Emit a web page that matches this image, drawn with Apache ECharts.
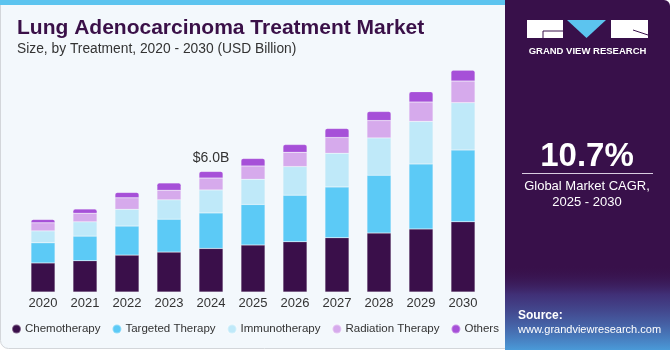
<!DOCTYPE html>
<html>
<head>
<meta charset="utf-8">
<script src="https://cdn.jsdelivr.net/npm/echarts@6/dist/echarts.min.js"></script>
<style>
html,body{margin:0;padding:0;background:#fff;}
#c{width:670px;height:350px;}
</style>
</head>
<body>
<div id="c"></div>
<script>
var years = ['2020','2021','2022','2023','2024','2025','2026','2027','2028','2029','2030'];
var chemotherapy = [1.44,1.55,1.83,1.98,2.16,2.33,2.49,2.69,2.92,3.13,3.48];
var targetedTherapy = [1.00,1.22,1.44,1.63,1.76,2.01,2.31,2.52,2.87,3.22,3.56];
var immunotherapy = [0.59,0.71,0.83,0.96,1.14,1.25,1.42,1.67,1.85,2.11,2.35];
var radiationTherapy = [0.40,0.43,0.57,0.48,0.59,0.66,0.71,0.78,0.86,0.96,1.07];
var others = [0.17,0.20,0.27,0.36,0.33,0.37,0.38,0.45,0.45,0.51,0.54];
var labelYear = '2024';
var labelText = '$6.0B';

var names = ['Chemotherapy','Targeted Therapy','Immunotherapy','Radiation Therapy','Others'];
var colors = ['#3a0f4a','#5ccaf6','#bfe9f9','#d6aaec','#a650d8'];
var dataSets = [chemotherapy, targetedTherapy, immunotherapy, radiationTherapy, others];

var chart = echarts.init(document.getElementById('c'), null, {renderer:'canvas'});
var series = dataSets.map(function(d, i){
  var s = {
    name: names[i], type:'bar', stack:'t', barWidth:24, data:d,
    itemStyle:{color:colors[i], borderColor:'rgba(255,255,255,0.35)', borderWidth:0.5},
    emphasis:{disabled:true}, z:3
  };
  if (i === dataSets.length-1) {
    s.itemStyle.borderRadius = [2,2,0,0];
    s.label = {
      show:true, position:'top', distance:6, fontSize:14, color:'#333',
      fontFamily:'Liberation Sans',
      formatter:function(p){ return p.name === labelYear ? labelText : ''; }
    };
  }
  return s;
});

var option = {
  animation:false,
  backgroundColor:'#ffffff',
  grid:{left:22, right:186, top:50, bottom:58},
  xAxis:{type:'category', data:years,
    axisLine:{show:false}, axisTick:{show:false},
    axisLabel:{color:'#333', fontSize:13, fontFamily:'Liberation Sans', margin:5}},
  yAxis:{type:'value', min:0, max:12, show:false, splitLine:{show:false}},
  legend:{data:names, left:6, top:318, icon:'circle', itemWidth:9, itemHeight:9, itemGap:11,
    textStyle:{color:'#333', fontSize:11.5, fontFamily:'Liberation Sans', padding:[0,0,0,-1]}},
  graphic:[
    {type:'rect', z:-10, shape:{x:0.5,y:0.5,width:520,height:348,r:[0,0,0,8]},
      style:{fill:'#f3f8fc', stroke:'#d3d6da', lineWidth:1}},
    {type:'rect', z:-9, shape:{x:0,y:0,width:505,height:5}, style:{fill:'#5cc4ef'}},
    {type:'rect', z:-8, shape:{x:505,y:0,width:165,height:350,r:[0,6,0,0]}, style:{fill:'#38104a'}},
    {type:'rect', z:-7, shape:{x:505,y:265,width:165,height:85},
      style:{fill:new echarts.graphic.LinearGradient(0,0,0,1,[
        {offset:0,color:'rgba(56,16,74,0)'},{offset:0.35,color:'rgba(70,70,150,0.6)'},{offset:1,color:'#4a9ad8'}])}},
    // logo
    {type:'rect', shape:{x:527,y:20,width:36,height:18}, style:{fill:'#fff'}},
    {type:'polygon', shape:{points:[[567,20],[606,20],[586.5,38]]}, style:{fill:'#5cc4ef'}},
    {type:'rect', shape:{x:611,y:20,width:37,height:18}, style:{fill:'#fff'}},
    {type:'line', shape:{x1:543,y1:31,x2:563,y2:31}, style:{stroke:'#38104a',lineWidth:1}},
    {type:'line', shape:{x1:543,y1:31,x2:543,y2:38}, style:{stroke:'#38104a',lineWidth:1}},
    {type:'line', shape:{x1:633,y1:30,x2:648,y2:35}, style:{stroke:'#38104a',lineWidth:1}},
    {type:'text', style:{x:587.5,y:51,text:'GRAND VIEW RESEARCH',fill:'#fff',font:'bold 9.5px "Liberation Sans"',
      textAlign:'center',textVerticalAlign:'middle'}},
    // CAGR
    {type:'text', style:{x:587,y:157,text:'10.7%',fill:'#fff',font:'bold 33px "Liberation Sans"',
      textAlign:'center',textVerticalAlign:'middle'}},
    {type:'line', shape:{x1:522,y1:173.5,x2:653,y2:173.5}, style:{stroke:'#d8cde0',lineWidth:1}},
    {type:'text', style:{x:587,y:186,text:'Global Market CAGR,',fill:'#fff',font:'13px "Liberation Sans"',
      textAlign:'center',textVerticalAlign:'middle'}},
    {type:'text', style:{x:587,y:202,text:'2025 - 2030',fill:'#fff',font:'13px "Liberation Sans"',
      textAlign:'center',textVerticalAlign:'middle'}},
    {type:'text', style:{x:518,y:316,text:'Source:',fill:'#fff',font:'bold 12px "Liberation Sans"',
      textVerticalAlign:'middle'}},
    {type:'text', style:{x:518,y:330,text:'www.grandviewresearch.com',fill:'#fff',font:'11px "Liberation Sans"',
      textVerticalAlign:'middle'}},
    // titles
    {type:'text', style:{x:17,y:28,text:'Lung Adenocarcinoma Treatment Market',fill:'#3a1048',
      font:'bold 21px "Liberation Sans"', textVerticalAlign:'middle'}},
    {type:'text', style:{x:17,y:49,text:'Size, by Treatment, 2020 - 2030 (USD Billion)',fill:'#333',
      font:'13.8px "Liberation Sans"', textVerticalAlign:'middle'}}
  ],
  series:series
};
chart.setOption(option);
</script>
</body>
</html>
